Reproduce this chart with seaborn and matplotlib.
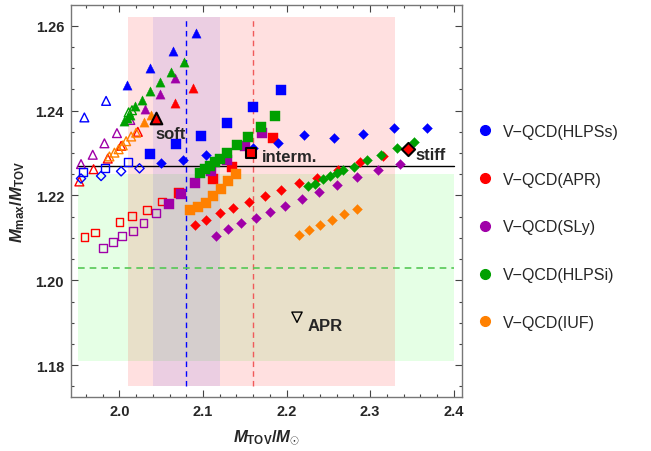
import matplotlib
matplotlib.use('Agg')
import matplotlib.pyplot as plt
from matplotlib.lines import Line2D
from matplotlib.ticker import MultipleLocator
import pandas as pd
import seaborn as sns

sns.set_style('ticks')
plt.rcParams['font.family'] = ['Liberation Sans', 'DejaVu Sans']
plt.rcParams['mathtext.fontset'] = 'custom'
plt.rcParams['mathtext.it'] = 'Liberation Sans:italic:bold'
plt.rcParams['mathtext.rm'] = 'Liberation Sans:bold'

eos_names = ['V−QCD(HLPSs)', 'V−QCD(APR)', 'V−QCD(SLy)', 'V−QCD(HLPSi)', 'V−QCD(IUF)']
eos_colors = ['#0000ff', '#ff0000', '#a000a8', '#00a000', '#ff8000']

# kind: T/S/D = filled triangle/square/diamond (soft/interm./stiff), lower case = open
hlpss_kind = ['t'] * 2 + ['T'] * 4 + ['s'] * 3 + ['S'] * 6 + ['d'] * 4 + ['D'] * 10
hlpss_x = [1.958, 1.984,
           2.009, 2.036, 2.064, 2.092,
           1.956, 1.983, 2.010,
           2.036, 2.068, 2.098, 2.129, 2.160, 2.193,
           1.954, 1.978, 2.002, 2.024,
           2.050, 2.076, 2.103, 2.160, 2.190, 2.221, 2.257, 2.292, 2.329, 2.368]
hlpss_y = [1.2384, 1.2423,
           1.2460, 1.2500, 1.2541, 1.2583,
           1.2256, 1.2265, 1.2279,
           1.2297, 1.2321, 1.2341, 1.2371, 1.2409, 1.2449,
           1.2240, 1.2246, 1.2257, 1.2264,
           1.2276, 1.2284, 1.2295, 1.2313, 1.2323, 1.2343, 1.2336, 1.2346, 1.2358, 1.2360]

apr_kind = ['t'] * 5 + ['T'] * 2 + ['s'] * 6 + ['S'] * 4 + ['D'] * 12
apr_x = [1.952, 1.969, 1.986, 2.002, 2.022,
         2.066, 2.088,
         1.958, 1.971, 2.000, 2.015, 2.033, 2.051,
         2.071, 2.112, 2.135, 2.184,
         2.090, 2.104, 2.120, 2.136, 2.155, 2.174, 2.193, 2.215, 2.236, 2.262, 2.288, 2.316]
apr_y = [1.2233, 1.2262, 1.2287, 1.2317, 1.2350,
         1.2417, 1.2453,
         1.2102, 1.2113, 1.2138, 1.2152, 1.2166, 1.2186,
         1.2207, 1.2240, 1.2266, 1.2336,
         1.2131, 1.2142, 1.2158, 1.2170, 1.2185, 1.2199, 1.2213, 1.2229, 1.2242, 1.2260, 1.2278, 1.2292]

sly_kind = ['t'] * 5 + ['T'] * 3 + ['s'] * 6 + ['S'] * 7 + ['D'] * 12
sly_x = [1.954, 1.968, 1.982, 1.997, 2.013,
         2.030, 2.049, 2.067,
         1.980, 1.992, 2.003, 2.016, 2.029, 2.044,
         2.059, 2.074, 2.091, 2.110, 2.129, 2.150, 2.171,
         2.116, 2.130, 2.145, 2.163, 2.180, 2.198, 2.218, 2.239, 2.260, 2.284, 2.309, 2.336]
sly_y = [1.2274, 1.2296, 1.2323, 1.2347, 1.2378,
         1.2404, 1.2439, 1.2477,
         1.2076, 1.2091, 1.2105, 1.2116, 1.2135, 1.2158,
         1.2179, 1.2203, 1.2230, 1.2257, 1.2284, 1.2317, 1.2347,
         1.2105, 1.2121, 1.2135, 1.2146, 1.2161, 1.2175, 1.2191, 1.2208, 1.2224, 1.2244, 1.2260, 1.2275]

hlpsi_kind = ['t'] * 2 + ['T'] * 9 + ['S'] * 10 + ['D'] * 11
hlpsi_x = [2.011, 2.015,
           2.006, 2.009, 2.013, 2.019, 2.027, 2.037, 2.049, 2.062, 2.077,
           2.096, 2.102, 2.108, 2.114, 2.120, 2.129, 2.141, 2.154, 2.169, 2.186,
           2.226, 2.234, 2.244, 2.252, 2.260, 2.268, 2.281, 2.296, 2.313, 2.332, 2.353]
hlpsi_y = [1.2396, 1.2401,
           1.2375, 1.2382, 1.2390, 1.2411, 1.2424, 1.2446, 1.2467, 1.2491, 1.2515,
           1.2254, 1.2262, 1.2270, 1.2278, 1.2287, 1.2301, 1.2319, 1.2338, 1.2362, 1.2388,
           1.2223, 1.2228, 1.2238, 1.2246, 1.2254, 1.2260, 1.2267, 1.2284, 1.2295, 1.2311, 1.2326]

iuf_kind = ['t'] * 7 + ['T'] * 2 + ['S'] * 7 + ['D'] * 6
iuf_x = [1.988, 1.994, 1.999, 2.004, 2.008, 2.014, 2.020,
         2.029, 2.038,
         2.084, 2.094, 2.104, 2.112, 2.121, 2.130, 2.140,
         2.215, 2.227, 2.240, 2.254, 2.269, 2.284]
iuf_y = [1.2292, 1.2301, 1.2309, 1.2318, 1.2328, 1.2339, 1.2348,
         1.2373, 1.2389,
         1.2166, 1.2172, 1.2182, 1.2199, 1.2215, 1.2234, 1.2250,
         1.2107, 1.2118, 1.2130, 1.2143, 1.2156, 1.2169]

# highlighted APR models
ref_labels = ['soft', 'interm.', 'stiff']
ref_x = [2.044, 2.158, 2.345]
ref_y = [1.2383, 1.2300, 1.2309]
apr_ref_x, apr_ref_y = 2.2125, 1.1913

# bands and reference lines
green_band = (1.95, 2.40, 1.181, 1.225)
red_band = (2.01, 2.33, 1.175, 1.262)
blue_band = (2.04, 2.12, 1.175, 1.262)
blue_line_x, red_line_x = 2.08, 2.16
green_line_y, black_line_y = 1.203, 1.227

frames = []
for name, xs, ys, ks in zip(eos_names,
                            [hlpss_x, apr_x, sly_x, hlpsi_x, iuf_x],
                            [hlpss_y, apr_y, sly_y, hlpsi_y, iuf_y],
                            [hlpss_kind, apr_kind, sly_kind, hlpsi_kind, iuf_kind]):
    frames.append(pd.DataFrame({'eos': name, 'x': xs, 'y': ys, 'kind': ks}))
df = pd.concat(frames, ignore_index=True)

fig = plt.figure(figsize=(6.51, 4.52), dpi=100)
ax = fig.add_axes([71 / 651, 1 - 398 / 452, 391 / 651, 392 / 452])

x0, x1, y0, y1 = green_band
ax.fill_between([x0, x1], y0, y1, color=(0, 1, 0), alpha=0.1, lw=0, zorder=0)
x0, x1, y0, y1 = red_band
ax.fill_between([x0, x1], y0, y1, color=(1, 0, 0), alpha=0.12, lw=0, zorder=0)
x0, x1, y0, y1 = blue_band
ax.fill_between([x0, x1], y0, y1, color=(0, 0, 1), alpha=0.08, lw=0, zorder=0)

ax.plot([blue_line_x] * 2, red_band[2:], color='#0000ff', lw=1, dashes=(4, 3), zorder=1)
ax.plot([red_line_x] * 2, red_band[2:], color='#f05a5a', lw=1, dashes=(4, 3), zorder=1)
ax.plot(green_band[:2], [green_line_y] * 2, color='#55c855', lw=1.2, dashes=(4, 3), zorder=1)
ax.plot(green_band[:2], [black_line_y] * 2, color='black', lw=1, zorder=1)

markers = {'t': '^', 'T': '^', 's': 's', 'S': 's', 'd': 'D', 'D': 'D'}
sizes = {'t': 40, 'T': 44, 's': 30, 'S': 46, 'd': 22, 'D': 25}
for kind in ['t', 's', 'd', 'T', 'S', 'D']:
    for name, col in zip(eos_names, eos_colors):
        sub = df[(df.eos == name) & (df.kind == kind)]
        if sub.empty:
            continue
        if kind.islower():
            sns.scatterplot(data=sub, x='x', y='y', ax=ax, marker=markers[kind],
                            s=sizes[kind], color=col, facecolors='none',
                            edgecolor=col, linewidth=1, zorder=3, legend=False)
        else:
            sns.scatterplot(data=sub, x='x', y='y', ax=ax, marker=markers[kind],
                            s=sizes[kind], color=col, edgecolor=col,
                            linewidth=0.3, zorder=4, legend=False)

for m, s, xx, yy in zip(['^', 's', 'D'], [70, 50, 45], ref_x, ref_y):
    ax.scatter([xx], [yy], marker=m, s=s, color='#ff0000', edgecolor='black',
               linewidth=1.5, zorder=6)
ax.scatter([apr_ref_x], [apr_ref_y], marker='v', s=55, facecolors='none',
           edgecolor='black', linewidth=1, zorder=6)

txt = dict(fontsize=12, fontweight='bold', zorder=7)
ax.text(2.043, 1.2335, 'soft', **txt)
ax.text(2.170, 1.2281, 'interm.', **txt)
ax.text(2.354, 1.2287, 'stiff', **txt)
ax.text(2.2257, 1.1883, 'APR', **txt)

ax.set_xlim(1.942, 2.41)
ax.set_ylim(1.1725, 1.2649)
ax.xaxis.set_major_locator(MultipleLocator(0.1))
ax.xaxis.set_minor_locator(MultipleLocator(0.02))
ax.yaxis.set_major_locator(MultipleLocator(0.02))
ax.yaxis.set_minor_locator(MultipleLocator(0.005))
ax.xaxis.set_major_formatter(lambda v, p: f'{v:.1f}')
ax.yaxis.set_major_formatter(lambda v, p: f'{v:.2f}')
ax.tick_params(which='both', direction='in', top=True, right=True,
               color='#444444', width=0.8, labelsize=10.5, pad=5)
ax.tick_params(which='major', length=5)
ax.tick_params(which='minor', length=2.5)
for lab in ax.get_xticklabels() + ax.get_yticklabels():
    lab.set_fontweight('bold')
for sp in ax.spines.values():
    sp.set_color('#777777')
    sp.set_linewidth(1)

ax.set_xlabel(r'$M_{\rm TOV}/M_{\odot}$', fontsize=12, labelpad=7)
ax.set_ylabel(r'$M_{\rm max}/M_{\rm TOV}$', fontsize=12, labelpad=6)

handles = [Line2D([], [], marker='o', ls='', color=c, markersize=7) for c in eos_colors]
fig.legend(handles, eos_names, loc='upper left', bbox_to_anchor=(477 / 651, 1 - 125 / 452),
           frameon=False, fontsize=11.5, handlelength=1.0, handletextpad=0.6,
           labelspacing=2.05, borderpad=0, borderaxespad=0)

fig.savefig('out.png', dpi=100)
